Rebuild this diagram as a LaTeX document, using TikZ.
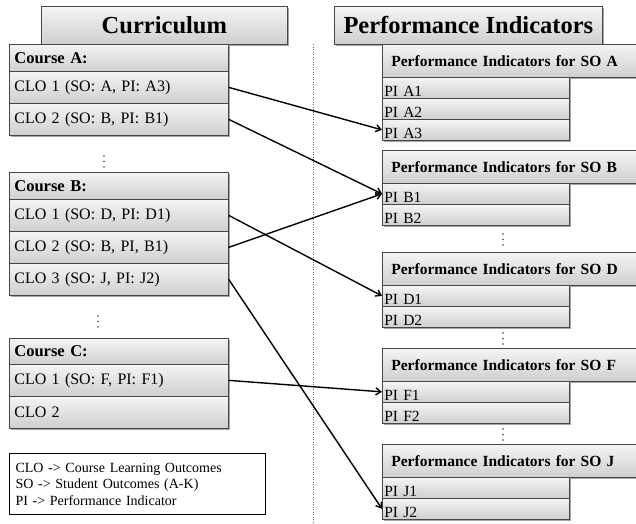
\documentclass[tikz,border=0pt]{standalone}
\usepackage{fontspec}
\setmainfont{Liberation Serif}
\usetikzlibrary{arrows.meta,shadows}
\begin{document}
\begin{tikzpicture}[x=1pt,y=-1pt,
  shade/.style={draw=black!72, line width=0.7pt, top color=gray!8, bottom color=gray!38,
    drop shadow={shadow xshift=1.2pt,shadow yshift=-1.2pt,fill=black,opacity=0.35}},
  titlebox/.style={shade, anchor=north west, minimum height=38pt, inner sep=0pt,
    font=\fontsize{24.5}{28}\selectfont\bfseries},
  cell/.style={shade, anchor=north west, inner xsep=5pt, inner ysep=0pt, align=left,
    text width=209pt, font=\fontsize{16}{18}\selectfont},
  head/.style={cell, font=\fontsize{16.5}{18}\selectfont\bfseries},
  pihead/.style={shade, anchor=north west, inner xsep=9pt, inner ysep=0pt, align=left,
    text width=240pt, minimum height=33pt, font=\fontsize{15.5}{18}\selectfont\bfseries},
  pirow/.style={shade, anchor=north west, inner xsep=2pt, inner ysep=0pt, align=left,
    text width=183pt, text height=19pt, text depth=2pt, font=\fontsize{15.5}{18}\selectfont},
  dotmark/.style={fill=black!75},
  arr/.style={line width=1.4pt, -{Straight Barb[length=5pt,width=7pt]}},
  legend/.style={draw=black, line width=1.1pt, fill=white, anchor=north west, inner xsep=6pt,
    inner ysep=0pt, align=left, text width=244pt, minimum height=61pt,
    font=\fontsize{14}{16.5}\selectfont}
]
\newcommand\vdotsat[2]{\foreach \k in {0,1,2} {\fill[dotmark] (#1,#2+\k*5.5) circle (0.9pt);}}
\useasboundingbox (0,0) rectangle (636,523);
\clip (0,0) rectangle (636,523);
\fill[white] (0,0) rectangle (636,523);

% dotted separator
\coordinate (sepT) at (313,44);
\coordinate (sepB) at (313,523);
\draw[black!60, line width=0.5pt, dotted] (sepT) -- (sepB);

% titles
\node[titlebox, minimum width=246pt] (tcur) at (41,6) {Curriculum};
\node[titlebox, minimum width=268pt] (tpi) at (334,6) {Performance Indicators};

% Course A
\node[head, minimum height=27pt] (ah) at (9,44) {Course A:};
\node[cell, minimum height=32pt] (a1) at (9,71) {CLO 1 (SO: A, PI: A3)};
\node[cell, minimum height=32pt] (a2) at (9,103) {CLO 2 (SO: B, PI: B1)};
\vdotsat{104}{156}

% Course B
\node[head, minimum height=27pt] (bh) at (9,172) {Course B:};
\node[cell, minimum height=32pt] (b1) at (9,199) {CLO 1 (SO: D, PI: D1)};
\node[cell, minimum height=32pt] (b2) at (9,231) {CLO 2 (SO: B, PI, B1)};
\node[cell, minimum height=32pt] (b3) at (9,263) {CLO 3 (SO: J, PI: J2)};
\vdotsat{98}{316}

% Course C
\node[head, minimum height=26pt] (ch) at (9,338) {Course C:};
\node[cell, minimum height=32pt] (c1) at (9,364) {CLO 1 (SO: F, PI: F1)};
\node[cell, minimum height=32pt] (c2) at (9,396) {CLO 2};

% legend
\node[legend] (leg) at (9,453) {CLO -> Course Learning Outcomes\\SO -> Student Outcomes (A-K)\\PI -> Performance Indicator};

% PI for SO A
\node[pihead] (pah) at (382,44) {Performance Indicators for SO A};
\node[pirow] (pa1) at (382,77) {PI A1};
\node[pirow] (pa2) at (382,98) {PI A2};
\node[pirow] (pa3) at (382,119) {PI A3};

% PI for SO B
\node[pihead] (pbh) at (382,150) {Performance Indicators for SO B};
\node[pirow] (pb1) at (382,183) {PI B1};
\node[pirow] (pb2) at (382,204) {PI B2};
\vdotsat{503}{234}

% PI for SO D
\node[pihead] (pdh) at (382,252) {Performance Indicators for SO D};
\node[pirow] (pd1) at (382,285) {PI D1};
\node[pirow] (pd2) at (382,306) {PI D2};
\vdotsat{503}{333}

% PI for SO F
\node[pihead] (pfh) at (382,348) {Performance Indicators for SO F};
\node[pirow] (pf1) at (382,381) {PI F1};
\node[pirow] (pf2) at (382,402) {PI F2};
\vdotsat{503}{429}

% PI for SO J
\node[pihead] (pjh) at (382,444) {Performance Indicators for SO J};
\node[pirow] (pj1) at (382,477) {PI J1};
\node[pirow] (pj2) at (382,498) {PI J2};

% connectors
\draw[arr] (a1.east) -- (pa3.west);
\draw[arr] (a2.east) -- (pb1.west);
\draw[arr] (b1.east) -- (pd1.west);
\draw[arr] (b2.east) -- (pb1.west);
\draw[arr] (b3.east) -- (pj2.west);
\draw[arr] (c1.east) -- (pf1.west);
\end{tikzpicture}
\end{document}
